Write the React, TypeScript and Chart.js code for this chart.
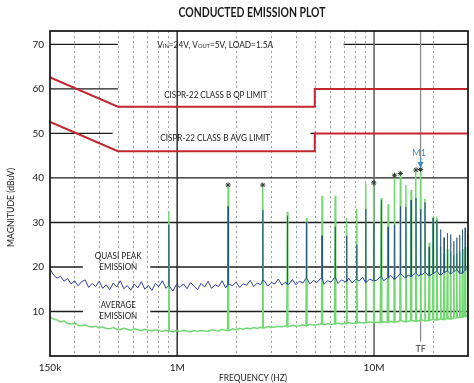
import { useEffect, useRef } from 'react';
import { Chart, registerables } from 'chart.js';

Chart.register(...registerables);

// ---------- axes ----------
const X_MIN = 226e3;
const X_MAX = 30e6;
const Y_MIN = 0;
const Y_MAX = 73;
const X_TICK_VALUES = [X_MIN, 1e6, 1e7];
const X_TICK_LABELS = ['150k', '1M', '10M'];
const Y_TICKS = [10, 20, 30, 40, 50, 60, 70];
const MINOR_FREQS = [3e5, 4e5, 5e5, 6e5, 7e5, 8e5, 9e5, 2e6, 3e6, 4e6, 5e6, 6e6, 7e6, 8e6, 9e6, 2e7];
const MAJOR_FREQS = [1e6, 1e7];

// ---------- CISPR-22 class B limits ----------
const LIMIT_FREQS = [150e3, 500e3, 5e6, 5e6, 30e6];
const QP_LIMIT = [66, 56, 56, 60, 60];
const AVG_LIMIT = [56, 46, 46, 50, 50];

// ---------- measured emission ----------
const HARMONIC_MHZ = [0.907, 1.814, 2.721, 3.628, 4.535, 5.442, 6.349, 7.256, 8.163, 9.07, 9.977, 10.88, 11.79, 12.7, 13.6, 14.51, 15.42, 16.33, 17.23, 18.14, 19.05, 19.95, 20.86, 21.77, 22.68, 23.58, 24.49, 25.4, 26.3, 27.21, 28.12, 29.02, 29.93];
const AVG_PEAKS = [32.5, 37.8, 37.8, 32.4, 31.0, 36.0, 36.0, 31.0, 33.0, 38.8, 38.3, 35.5, 34.1, 40.0, 40.4, 38.4, 37.3, 41.2, 41.3, 35.3, 25.5, 31.3, 31.3, 24.5, 23.0, 24.0, 23.5, 22.5, 23.0, 23.5, 24.0, 24.5, 25.0];
const QP_PEAKS = [29.5, 33.6, 32.8, 31.5, 30.0, 27.0, 29.0, 27.0, 25.0, 33.0, 30.0, 35.0, 29.0, 29.5, 33.6, 33.5, 35.0, 35.5, 33.0, 34.5, 24.5, 31.0, 30.6, 28.4, 26.6, 27.6, 27.3, 25.8, 26.6, 27.2, 28.4, 28.8, 27.5];
const STAR_HARMONICS = [2, 3, 11, 14, 15, 18, 19];
const M1_HARMONIC = 19;

const QP_FLOOR = [
  19.6, 18.2, 17.5, 17.9, 16.8, 17.4, 16.2, 16.9, 15.8, 16.7, 17.1, 15.4,
  16.3, 15.6, 16.8, 15.2, 16.0, 14.9, 16.4, 15.5, 16.9, 15.1, 15.8, 14.8,
  16.2, 15.3, 16.7, 15.0, 15.9, 14.7, 16.3, 15.6, 16.9, 15.2, 15.8, 14.6,
  16.1, 15.4, 16.2, 15.1, 16.5, 15.7, 14.9, 16.3, 15.5, 16.8, 15.2, 16.0,
  15.6, 16.9, 15.3, 16.1, 15.8, 16.6, 15.4, 16.2, 15.9, 17.0, 15.6, 16.4,
  16.0, 16.9, 15.7, 16.5, 16.2, 17.3, 15.9, 16.6, 16.1, 17.2, 16.0, 16.8,
  16.4, 17.5, 16.2, 17.0, 16.5, 17.4, 16.1, 16.9, 16.6, 17.6, 16.3, 17.1,
  16.7, 17.5, 16.4, 17.2, 16.8, 17.7, 16.5, 17.3, 16.9, 17.0, 17.8, 16.9,
  17.5, 18.1, 17.2, 17.9, 18.4, 17.6, 18.2, 17.8, 18.6, 17.9, 18.3, 18.8,
  18.0, 18.5, 19.0, 18.2, 18.7, 19.1, 18.4, 18.9, 19.3, 18.6, 19.2, 19.8,
];
const AVG_FLOOR = [
  8.7, 8.3, 8.1, 7.6, 7.9, 7.3, 7.2, 7.4, 6.9, 6.8, 7.0, 6.6,
  6.5, 6.7, 6.3, 6.5, 6.2, 6.1, 6.4, 6.0, 5.9, 6.2, 6.0, 5.8,
  6.1, 5.9, 5.7, 6.0, 5.8, 5.6, 5.9, 5.7, 5.5, 5.8, 5.6, 5.4,
  5.7, 5.5, 5.8, 5.6, 5.4, 5.7, 5.5, 5.8, 5.6, 5.5, 5.9, 5.7,
  5.6, 6.0, 5.8, 5.7, 6.1, 5.9, 6.2, 6.0, 6.3, 6.1, 6.4, 6.2,
  6.5, 6.3, 6.6, 6.4, 6.5, 6.7, 6.5, 6.8, 6.6, 6.9, 6.7, 6.8,
  7.0, 6.8, 7.1, 6.9, 7.0, 7.2, 7.0, 7.3, 7.1, 7.2, 7.4, 7.2,
  7.3, 7.5, 7.3, 7.4, 7.6, 7.4, 7.5, 7.7, 7.5, 7.6, 7.5, 7.7,
  7.6, 7.8, 7.6, 7.7, 7.9, 7.7, 7.8, 8.0, 7.8, 7.9, 8.1, 7.9,
  8.0, 8.2, 8.1, 8.3, 8.2, 8.4, 8.3, 8.5, 8.6, 8.7, 8.9, 9.1,
];

// horizontal grid rows drawn as segments [dB, fromHz, toHz]
const GRID_ROWS: [number, number, number][] = [
  [70, X_MIN, 5.0e5], [70, 7.0e6, X_MAX],
  [60, X_MIN, 5.0e5],
  [50, X_MIN, 4.7e5], [50, 4.75e6, 5e6],
  [40, X_MIN, X_MAX], [30, X_MIN, X_MAX],
  [20, X_MIN, 3.32e5], [20, 7.3e5, X_MAX],
  [10, X_MIN, 3.32e5], [10, 7.3e5, X_MAX],
];

const FONT = "Lato, 'Open Sans', sans-serif";
const INK = '#1a1a1a';

type Pt = { x: number; y: number; s: boolean };

function sweep(n: number) {
  return Array.from({ length: n }, (_, i) => X_MIN * Math.pow(X_MAX / X_MIN, i / (n - 1)));
}

function buildTrace(floor: number[], peaks: number[], hw: number): Pt[] {
  const f = sweep(floor.length);
  const nearest = (x: number) => {
    let best = 0;
    let d = Infinity;
    f.forEach((v, i) => {
      const dd = Math.abs(Math.log(v / x));
      if (dd < d) { d = dd; best = i; }
    });
    return best;
  };
  let pts: Pt[] = f.map((x, i) => ({ x, y: floor[i], s: false }));
  const spikes: Pt[] = [];
  HARMONIC_MHZ.forEach((m, k) => {
    const fx = m * 1e6;
    const base = floor[nearest(fx)];
    pts = pts.filter((p) => p.x < fx * (1 - hw) || p.x > fx * (1 + hw));
    spikes.push({ x: fx * (1 - hw), y: base, s: true }, { x: fx, y: peaks[k], s: true }, { x: fx * (1 + hw), y: base, s: true });
  });
  return [...pts, ...spikes].sort((a, b) => a.x - b.x);
}

function text(ctx: CanvasRenderingContext2D, t: string, x: number, y: number, font: string, color: string, maxW?: number) {
  ctx.font = font;
  ctx.fillStyle = color;
  ctx.textAlign = 'center';
  ctx.textBaseline = 'middle';
  if (maxW) ctx.fillText(t, x, y, maxW);
  else ctx.fillText(t, x, y);
}

const decorPlugin = {
  id: 'decor',
  beforeDatasetsDraw(chart: any) {
    const { ctx, chartArea: a, scales } = chart;
    const px = (v: number) => scales.x.getPixelForValue(v);
    const py = (v: number) => scales.y.getPixelForValue(v);
    ctx.save();
    // minor dotted verticals
    ctx.strokeStyle = '#9a9a9a';
    ctx.lineWidth = 1;
    ctx.setLineDash([2, 3]);
    MINOR_FREQS.forEach((f) => {
      const x = Math.round(px(f)) + 0.5;
      ctx.beginPath();
      ctx.moveTo(x, a.top);
      ctx.lineTo(x, a.bottom);
      ctx.stroke();
    });
    ctx.setLineDash([]);
    // horizontal grid segments
    ctx.strokeStyle = '#1c1c1c';
    ctx.lineWidth = 1.4;
    GRID_ROWS.forEach(([v, f0, f1]) => {
      const y = py(v);
      ctx.beginPath();
      ctx.moveTo(px(f0), y);
      ctx.lineTo(px(f1), y);
      ctx.stroke();
    });
    // decade verticals
    MAJOR_FREQS.forEach((f, i) => {
      ctx.strokeStyle = i === 0 ? '#222' : '#6a6a6a';
      ctx.lineWidth = i === 0 ? 1.4 : 1.7;
      const x = px(f);
      ctx.beginPath();
      ctx.moveTo(x, a.top);
      ctx.lineTo(x, a.bottom);
      ctx.stroke();
    });
    // TF marker line
    const fm = HARMONIC_MHZ[M1_HARMONIC - 1] * 1e6;
    ctx.strokeStyle = '#8c8c8c';
    ctx.lineWidth = 1.3;
    ctx.beginPath();
    ctx.moveTo(px(fm), a.top);
    ctx.lineTo(px(fm), py(3.2));
    ctx.stroke();

    // annotation text
    const f9 = `9.4px ${FONT}`;
    {
      const parts: [string, boolean][] = [['V', false], ['IN', true], ['=24V, V', false], ['OUT', true], ['=5V, LOAD=1.5A', false]];
      const big = `9.4px ${FONT}`;
      const small = `6.4px ${FONT}`;
      let total = 0;
      parts.forEach(([t, s]) => { ctx.font = s ? small : big; total += ctx.measureText(t).width; });
      const target = 116;
      const k = target / total;
      const cx = px(1.56e6);
      const cy = py(70);
      ctx.save();
      ctx.translate(cx - target / 2, cy);
      ctx.scale(k, 1);
      ctx.fillStyle = INK;
      ctx.textAlign = 'left';
      ctx.textBaseline = 'alphabetic';
      let xx = 0;
      parts.forEach(([t, s]) => { ctx.font = s ? small : big; ctx.fillText(t, xx, 3.4); xx += ctx.measureText(t).width; });
      ctx.restore();
    }
    text(ctx, 'CISPR-22 CLASS B QP LIMIT', px(1.57e6), py(58.6), f9, INK, 103);
    text(ctx, 'CISPR-22 CLASS B AVG LIMIT', px(1.56e6), py(49.0), f9, INK, 110);
    text(ctx, 'QUASI PEAK', px(5.02e5), py(22.5), f9, INK, 47);
    text(ctx, 'EMISSION', px(5.02e5), py(20.1), f9, INK, 38);
    text(ctx, 'AVERAGE', px(5.02e5), py(11.35), f9, INK, 35);
    text(ctx, 'EMISSION', px(5.02e5), py(9.0), f9, INK, 38);
    ctx.restore();
  },
  afterDatasetsDraw(chart: any) {
    const { ctx, chartArea: a, scales } = chart;
    const px = (v: number) => scales.x.getPixelForValue(v);
    const py = (v: number) => scales.y.getPixelForValue(v);
    ctx.save();
    const fm = HARMONIC_MHZ[M1_HARMONIC - 1] * 1e6;
    const xm = px(fm);
    // M1 marker arrow
    text(ctx, 'M1', xm - 1.5, py(45.6), `9px ${FONT}`, '#3a8ccf');
    ctx.strokeStyle = '#3a8ccf';
    ctx.lineWidth = 1.2;
    ctx.beginPath();
    ctx.moveTo(xm, py(44.6));
    ctx.lineTo(xm, py(43.4));
    ctx.stroke();
    ctx.fillStyle = '#3a8ccf';
    ctx.beginPath();
    ctx.moveTo(xm - 3, py(43.6));
    ctx.lineTo(xm + 3, py(43.6));
    ctx.lineTo(xm, py(42.2));
    ctx.closePath();
    ctx.fill();
    text(ctx, 'TF', xm, py(1.6), `9px ${FONT}`, '#333');
    // frame
    ctx.strokeStyle = '#111';
    ctx.lineWidth = 1.7;
    ctx.strokeRect(a.left, a.top, a.right - a.left, a.bottom - a.top);
    ctx.restore();
  },
  afterDraw(chart: any) {
    const { ctx } = chart;
    ctx.save();
    text(ctx, 'CONDUCTED EMISSION PLOT', 252, 12.5, `bold 12.5px ${FONT}`, INK, 147);
    text(ctx, 'FREQUENCY (HZ)', 253, 377.5, `9.4px ${FONT}`, INK, 68);
    ctx.translate(11, 207.5);
    ctx.rotate(-Math.PI / 2);
    text(ctx, 'MAGNITUDE (dBuV)', 0, 0, `9.4px ${FONT}`, INK, 79);
    ctx.restore();
  },
};

export default function App() {
  const ref = useRef<HTMLCanvasElement | null>(null);
  useEffect(() => {
    if (!ref.current) return;
    const qp = buildTrace(QP_FLOOR, QP_PEAKS, 0.0025);
    const avg = buildTrace(AVG_FLOOR, AVG_PEAKS, 0.006);
    const stars = STAR_HARMONICS.map((n) => ({ x: HARMONIC_MHZ[n - 1] * 1e6, y: AVG_PEAKS[n - 1] + 0.6 }));
    const chart = new Chart(ref.current, {
      type: 'line',
      data: {
        datasets: [
          {
            label: 'markers',
            data: stars,
            showLine: false,
            pointStyle: 'star',
            pointRadius: 2.6,
            borderColor: '#2c3a2c',
            borderWidth: 1,
            backgroundColor: '#2c3a2c',
            order: 0,
          } as any,
          {
            label: 'QP limit',
            data: LIMIT_FREQS.map((x, i) => ({ x, y: QP_LIMIT[i] })),
            borderColor: '#c4262e',
            borderWidth: 2,
            pointRadius: 0,
            order: 1,
          },
          {
            label: 'AVG limit',
            data: LIMIT_FREQS.map((x, i) => ({ x, y: AVG_LIMIT[i] })),
            borderColor: '#c4262e',
            borderWidth: 2,
            pointRadius: 0,
            order: 1,
          },
          {
            label: 'Quasi peak',
            data: qp,
            borderColor: '#2f3ea6',
            borderWidth: 1,
            pointRadius: 0,
            order: 2,
            segment: {
              borderColor: (c: any) => (qp[c.p0DataIndex].s && qp[c.p1DataIndex].s ? 'rgba(30,80,120,0.7)' : undefined),
            },
          } as any,
          {
            label: 'Average',
            data: avg,
            borderColor: '#72d872',
            borderWidth: 1.5,
            pointRadius: 0,
            order: 3,
          },
        ],
      },
      options: {
        animation: false,
        responsive: true,
        maintainAspectRatio: false,
        layout: { padding: { top: 31, right: 6, left: 0, bottom: 0 } },
        plugins: { legend: { display: false }, tooltip: { enabled: false } },
        scales: {
          x: {
            type: 'logarithmic',
            min: X_MIN,
            max: X_MAX,
            grid: { display: false, drawTicks: false },
            border: { display: false },
            afterBuildTicks: (s: any) => { s.ticks = X_TICK_VALUES.map((value) => ({ value })); },
            afterFit: (s: any) => { s.height = 27; },
            ticks: {
              autoSkip: false,
              maxRotation: 0,
              minRotation: 0,
              padding: 6,
              color: INK,
              font: { family: FONT, size: 10 },
              callback: (_v: any, i: number) => X_TICK_LABELS[i],
            },
          },
          y: {
            type: 'linear',
            min: Y_MIN,
            max: Y_MAX,
            grid: { display: false, drawTicks: false },
            border: { display: false },
            afterBuildTicks: (s: any) => { s.ticks = Y_TICKS.map((value) => ({ value })); },
            afterFit: (s: any) => { s.width = 50; },
            ticks: {
              padding: 6,
              color: INK,
              font: { family: FONT, size: 10 },
            },
          },
        },
      },
      plugins: [decorPlugin],
    });
    return () => chart.destroy();
  }, []);
  return (
    <div style={{ position: 'fixed', left: 0, top: 0, width: 474, height: 383, background: '#fff' }}>
      <canvas ref={ref} />
    </div>
  );
}
